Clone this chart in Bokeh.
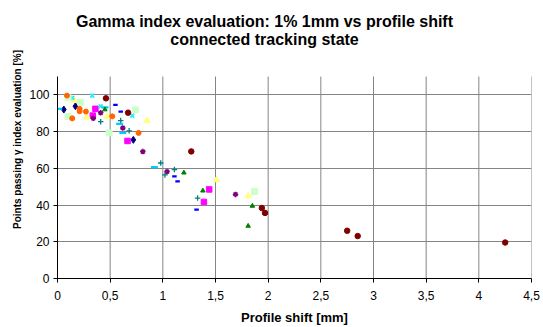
from bokeh.plotting import figure
from bokeh.models import Range1d, FixedTicker, CustomJSTickFormatter, Label
from bokeh.embed import file_html
from bokeh.resources import INLINE

# ---- data ----
navy_x = [0.06, 0.17, 0.72]
navy_y = [92.0, 93.8, 75.5]
magenta_x = [0.36, 0.335, 0.665, 1.44, 1.39]
magenta_y = [92.4, 88.7, 74.9, 48.5, 41.7]
yellow_x = [0.16, 0.28, 0.47, 0.85, 1.51, 1.81]
yellow_y = [96.9, 87.8, 88.2, 86.0, 53.7, 44.9]
cyan_x = [0.14, 0.33, 0.41, 0.71]
cyan_y = [98.4, 99.6, 93.8, 88.7]
purple_x = [0.41, 0.34, 0.62, 0.81, 1.04, 1.69]
purple_y = [90.2, 87.2, 82.0, 69.1, 58.2, 45.8]
darkred_x = [0.46, 0.67, 1.27, 1.94, 1.97, 2.75, 2.85, 4.25]
darkred_y = [98.1, 90.3, 69.2, 38.4, 35.7, 26.0, 23.1, 19.6]
teal_x = [0.41, 0.60, 0.68, 0.98, 1.11, 1.02, 1.33]
teal_y = [85.4, 86.0, 80.4, 62.9, 59.3, 56.4, 43.8]
blue_x = [0.55, 0.60, 1.11, 1.14, 1.32]
blue_y = [94.5, 90.9, 55.6, 52.9, 37.5]
sky_x = [0.01, 0.45, 0.59, 0.62, 0.92]
sky_y = [92.4, 93.2, 84.2, 79.3, 60.7]
lgreen_x = [0.10, 0.22, 0.10, 0.74, 0.49, 1.87]
lgreen_y = [98.4, 96.0, 88.3, 91.8, 79.3, 47.3]
orange_x = [0.09, 0.21, 0.21, 0.27, 0.14, 0.52, 0.77]
orange_y = [99.6, 92.4, 91.1, 90.9, 87.2, 88.3, 79.3]
green_x = [0.45, 1.20, 1.38, 1.85, 1.81]
green_y = [92.0, 57.6, 47.8, 39.5, 28.6]

x_ticks = [0, 0.5, 1, 1.5, 2, 2.5, 3, 3.5, 4, 4.5]
y_ticks = [0, 20, 40, 60, 80, 100]
X_MAX = 4.5
Y_MAX = 110

TITLE1 = "Gamma index evaluation: 1% 1mm vs profile shift"
TITLE2 = "connected tracking state"
XLABEL = "Profile shift [mm]"
YLABEL = "Points passing \u03b3 index evaluation [%]"

FONT = "Liberation Sans"

# layout: plot area from y=76px to y=278px; the frame extends to the top so the
# two-line title can live inside it
FRAME_H = 278
AREA_H = 202
y_top = Y_MAX * FRAME_H / AREA_H

p = figure(width=543, height=327, output_backend="svg", toolbar_location=None,
           x_range=Range1d(0, X_MAX), y_range=Range1d(0, y_top),
           min_border_left=57, min_border_right=12, min_border_top=0,
           min_border_bottom=49)
p.outline_line_color = None
p.background_fill_color = "white"
p.border_fill_color = "white"

for txt, sy in ((TITLE1, 257), (TITLE2, 239)):
    p.add_layout(Label(x=207, y=sy, x_units="screen", y_units="screen", text=txt,
                       text_align="center", text_baseline="alphabetic",
                       text_font=FONT, text_font_size="16px",
                       text_font_style="bold", text_color="black"))

# axes
p.xaxis.ticker = FixedTicker(ticks=x_ticks)
p.yaxis.ticker = FixedTicker(ticks=y_ticks)
p.yaxis.bounds = (0, Y_MAX)
p.xaxis.formatter = CustomJSTickFormatter(code="return tick.toString().replace('.', ',');")
for ax in (p.xaxis[0], p.yaxis[0]):
    ax.axis_line_color = "black"
    ax.major_tick_line_color = "black"
    ax.major_tick_in = 0
    ax.major_tick_out = 4
    ax.minor_tick_line_color = None
    ax.major_label_text_font = FONT
    ax.major_label_text_font_size = "12px"
    ax.major_label_text_color = "black"
    ax.axis_label_text_font = FONT
    ax.axis_label_text_font_style = "bold"
    ax.axis_label_text_color = "black"
p.xaxis.axis_label = XLABEL
p.xaxis.axis_label_text_font_size = "13px"
p.xaxis.major_label_standoff = 8
p.xaxis.axis_label_standoff = 7
p.yaxis.axis_label = YLABEL
p.yaxis.axis_label_text_font_size = "10px"
p.yaxis.major_label_standoff = 4
p.yaxis.axis_label_standoff = 3

# gridlines: horizontal from the grid, vertical limited to the plot area
GRID = "#858585"
p.ygrid.grid_line_color = GRID
p.ygrid.grid_line_width = 1
p.xgrid.grid_line_color = None
vx = x_ticks[1:]
p.segment(x0=vx, y0=[0] * len(vx), x1=vx, y1=[Y_MAX] * len(vx),
          line_color=GRID, line_width=1)

# series
p.scatter(navy_x, navy_y, marker="diamond", size=7, color="#000080")
p.scatter(magenta_x, magenta_y, marker="square", size=5.5, color="#FF00FF")
p.scatter(yellow_x, yellow_y, marker="triangle", size=6.5, color="#FFFF80")
p.scatter(cyan_x, cyan_y, marker="x", size=5.5, line_color="#33E6FF", line_width=1.8)
p.scatter(purple_x, purple_y, marker="asterisk", size=5.5, line_color="#800080", line_width=1.5)
p.scatter(darkred_x, darkred_y, marker="circle", size=5.5, color="#800000")
p.scatter(teal_x, teal_y, marker="cross", size=5.5, line_color="#008080", line_width=1.3)
p.scatter(blue_x, blue_y, marker="dash", size=4.5, line_color="#0000FF", line_width=2.2)
p.scatter(sky_x, sky_y, marker="dash", size=7, line_color="#00CCFF", line_width=2.2)
p.scatter(lgreen_x, lgreen_y, marker="square", size=6, color="#CCFFCC")
p.scatter(orange_x, orange_y, marker="circle", size=5, color="#FF6600")
p.scatter(green_x, green_y, marker="triangle", size=4.5, color="#008000")

open("out.html", "w").write(file_html(p, INLINE))
